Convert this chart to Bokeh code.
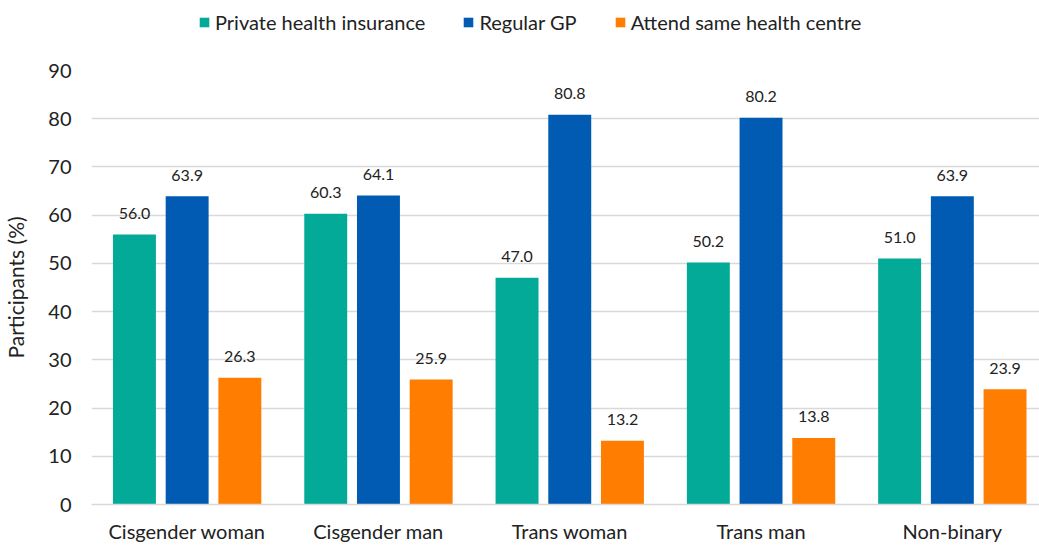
from bokeh.plotting import figure
from bokeh.models import (ColumnDataSource, Range1d, FixedTicker, Legend, LegendItem,
                          LabelSet)
from bokeh.layouts import column
from bokeh.core.properties import value
from bokeh.embed import file_html
from bokeh.resources import INLINE

categories = ["Cisgender woman", "Cisgender man", "Trans woman", "Trans man", "Non-binary"]
series_names = ["Private health insurance", "Regular GP", "Attend same health centre"]
private_insurance = [56.0, 60.3, 47.0, 50.2, 51.0]
regular_gp = [63.9, 64.1, 80.8, 80.2, 63.9]
same_centre = [26.3, 25.9, 13.2, 13.8, 23.9]
y_ticks = [0, 10, 20, 30, 40, 50, 60, 70, 80, 90]

colors = ["#03AA98", "#025BB3", "#FF7D00"]
FONT = "Lato"
TXT = "#222222"

W, H = 1039, 545
LEG_H = 44
frame_left, frame_top, frame_bottom = 90, 70, 505
px_per_cat = 191.5
x_end = (W - frame_left) / px_per_cat

# ---- legend strip on top (its frame is aligned with the chart's frame) ----
lg = figure(width=W, height=LEG_H, output_backend="svg", toolbar_location=None,
            x_range=Range1d(0, 1), y_range=Range1d(0, 1),
            min_border=0, min_border_left=frame_left, min_border_right=0,
            min_border_top=0, min_border_bottom=0)
lg.axis.visible = False
lg.grid.visible = False
lg.outline_line_color = None
lg.background_fill_color = "white"
lg.border_fill_color = "white"
# zero-size placeholder bars: they only supply the legend swatches
leg_renderers = [lg.vbar(x=[0], top=[0], bottom=[0], width=0, fill_color=c, line_color=None)
                 for c in colors]
legend = Legend(items=[LegendItem(label=n, renderers=[r]) for n, r in zip(series_names, leg_renderers)],
                orientation="horizontal", location=(107, 10),
                glyph_width=12, glyph_height=12, label_standoff=5, spacing=37,
                padding=0, margin=0, border_line_color=None, background_fill_alpha=0,
                label_text_font=FONT, label_text_font_size="20px", label_text_color=TXT)
lg.add_layout(legend, "center")

# ---- main chart ----
p = figure(width=W, height=H - LEG_H, output_backend="svg", toolbar_location=None,
           x_range=Range1d(0, x_end), y_range=Range1d(0, 90),
           min_border_left=frame_left, min_border_right=0,
           min_border_top=frame_top - LEG_H, min_border_bottom=H - frame_bottom)
p.outline_line_color = None
p.background_fill_color = "white"
p.border_fill_color = "white"

xs = [i + 0.5 for i in range(len(categories))]
offsets = [-0.2755, 0.0, 0.2755]
bar_w = 0.2245
for vals, off, col in zip([private_insurance, regular_gp, same_centre], offsets, colors):
    src = ColumnDataSource(dict(x=[x + off for x in xs], top=vals,
                                lab=[f"{v:.1f}" for v in vals]))
    p.vbar(x="x", top="top", width=bar_w, source=src, fill_color=col, line_color=None)
    labels = LabelSet(x="x", y="top", text="lab", source=src, text_align="center",
                      text_baseline="middle", y_offset=21, text_font=value(FONT),
                      text_font_size="16px", text_color=TXT)
    p.add_layout(labels)

p.xaxis.ticker = FixedTicker(ticks=xs)
p.xaxis.major_label_overrides = {x: c for x, c in zip(xs, categories)}
p.xaxis.major_label_text_font = FONT
p.xaxis.major_label_text_font_size = "20px"
p.xaxis.major_label_text_color = TXT
p.xaxis.major_label_standoff = 14
p.xaxis.major_tick_line_color = None
p.xaxis.major_tick_out = 0
p.xaxis.major_tick_in = 0
p.xaxis.minor_tick_line_color = None
p.xaxis.axis_line_color = "#D9D9D9"
p.xaxis.axis_line_width = 1.5

p.yaxis.ticker = FixedTicker(ticks=y_ticks)
p.yaxis.major_label_text_font = FONT
p.yaxis.major_label_text_font_size = "20px"
p.yaxis.major_label_text_color = TXT
p.yaxis.major_label_standoff = 20
p.yaxis.major_tick_line_color = None
p.yaxis.major_tick_out = 0
p.yaxis.major_tick_in = 0
p.yaxis.minor_tick_line_color = None
p.yaxis.axis_line_color = None
p.yaxis.axis_label = "Participants (%)"
p.yaxis.axis_label_text_font = FONT
p.yaxis.axis_label_text_font_size = "21px"
p.yaxis.axis_label_text_font_style = "normal"
p.yaxis.axis_label_text_color = TXT
p.yaxis.axis_label_standoff = 17

p.xgrid.grid_line_color = None
p.ygrid.ticker = FixedTicker(ticks=y_ticks)
p.ygrid.grid_line_color = "#D9D9D9"
p.ygrid.grid_line_width = 1.5

layout = column(lg, p, spacing=0)
open("out.html", "w").write(file_html(layout, INLINE))
